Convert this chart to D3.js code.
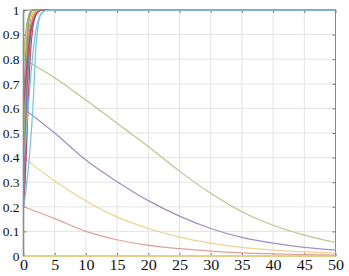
<!DOCTYPE html>
<html>
<head>
<meta charset="utf-8">
<script src="https://cdn.jsdelivr.net/npm/d3@7"></script>
<style>
body { margin: 0; background: #fff; }
.tick text { font-family: "Liberation Serif", "Times New Roman", serif; fill: #111; }
.xax .tick text { font-size: 14px; }
.yax .tick text { font-size: 13.5px; }
</style>
</head>
<body>
<div id="chart"></div>
<script>
// x positions for the fast-rising curves
var stepX = [0, 0.25, 0.5, 0.75, 1, 1.5, 2, 2.5, 3, 4, 5, 50];
var riseCurves = [
  { color: "#5b86c2", y: [0.2, 0.42, 0.68, 0.86, 0.95, 0.99, 1, 1, 1, 1, 1, 1] },
  { color: "#e0845a", y: [0.2, 0.35, 0.55, 0.74, 0.87, 0.97, 0.995, 1, 1, 1, 1, 1] },
  { color: "#eec862", y: [0.4, 0.6, 0.78, 0.9, 0.96, 0.99, 1, 1, 1, 1, 1, 1] },
  { color: "#9c73aa", y: [0.58, 0.76, 0.88, 0.95, 0.98, 1, 1, 1, 1, 1, 1, 1] },
  { color: "#92bb62", y: [0.78, 0.88, 0.94, 0.97, 0.99, 1, 1, 1, 1, 1, 1, 1] },
  { color: "#b8475e", y: [0.2, 0.3, 0.45, 0.62, 0.77, 0.93, 0.98, 1, 1, 1, 1, 1] },
  { color: "#5b86c2", y: [0.4, 0.52, 0.65, 0.77, 0.86, 0.95, 0.985, 1, 1, 1, 1, 1] },
  { color: "#e0845a", y: [0.6, 0.7, 0.8, 0.87, 0.92, 0.97, 0.99, 1, 1, 1, 1, 1] },
  { color: "#eec862", y: [0.8, 0.86, 0.9, 0.94, 0.96, 0.985, 0.995, 1, 1, 1, 1, 1] },
  { color: "#9c73aa", y: [0.2, 0.5, 0.78, 0.93, 0.98, 1, 1, 1, 1, 1, 1, 1] },
  { color: "#92bb62", y: [0.4, 0.65, 0.85, 0.95, 0.99, 1, 1, 1, 1, 1, 1, 1] },
  { color: "#b8475e", y: [0.6, 0.68, 0.76, 0.83, 0.89, 0.95, 0.98, 0.995, 1, 1, 1, 1] },
  { color: "#72c3e6", y: [0.4, 0.45, 0.52, 0.6, 0.68, 0.82, 0.92, 0.97, 0.99, 1, 1, 1] },
  { color: "#72c3e6", y: [0.2, 0.24, 0.29, 0.35, 0.42, 0.6, 0.85, 0.96, 0.99, 1, 1, 1] }
];

// slowly decaying curves
var decayX = [0, 5, 10, 15, 20, 25, 30, 35, 40, 45, 50];
var decayCurves = [
  { color: "#e6cf8a", y: [0, 0, 0, 0, 0, 0, 0, 0, 0, 0, 0] },
  { color: "#dea096", y: [0.2, 0.152, 0.1, 0.066, 0.043, 0.03, 0.02, 0.013, 0.009, 0.006, 0.004] },
  { color: "#ead48e", y: [0.4, 0.305, 0.224, 0.159, 0.112, 0.077, 0.052, 0.035, 0.024, 0.017, 0.012] },
  { color: "#a58cc0", y: [0.6, 0.5, 0.39, 0.302, 0.225, 0.162, 0.112, 0.076, 0.052, 0.035, 0.024] },
  { color: "#b8c68e", y: [0.8, 0.725, 0.634, 0.54, 0.445, 0.345, 0.255, 0.18, 0.125, 0.085, 0.055] }
];

var xTicks = [0, 5, 10, 15, 20, 25, 30, 35, 40, 45, 50];
var yTicks = [0, 0.1, 0.2, 0.3, 0.4, 0.5, 0.6, 0.7, 0.8, 0.9, 1];

var W = 349, H = 276;
var margin = {top: 10, right: 13.5, bottom: 20, left: 23.5};
var width = W - margin.left - margin.right,
    height = H - margin.top - margin.bottom;

var svg = d3.select("#chart").append("svg")
  .attr("width", W).attr("height", H)
  .append("g")
  .attr("transform", "translate(" + margin.left + "," + margin.top + ")");

var x = d3.scaleLinear().domain([0, 50]).range([0, width]);
var y = d3.scaleLinear().domain([0, 1]).range([height, 0]);

// grid
svg.append("g").selectAll("line").data(xTicks.slice(1, -1)).enter().append("line")
  .attr("x1", function(d) { return x(d); }).attr("x2", function(d) { return x(d); })
  .attr("y1", 0).attr("y2", height)
  .attr("stroke", "#e4e4e4").attr("stroke-width", 1);
svg.append("g").selectAll("line").data(yTicks.slice(1, -1)).enter().append("line")
  .attr("y1", function(d) { return y(d); }).attr("y2", function(d) { return y(d); })
  .attr("x1", 0).attr("x2", width)
  .attr("stroke", "#e4e4e4").attr("stroke-width", 1);

// box + inner ticks
svg.append("rect").attr("x", 0).attr("y", 0).attr("width", width).attr("height", height)
  .attr("fill", "none").attr("stroke", "#8a8a8a").attr("stroke-width", 1);

var axBottom = svg.append("g").attr("class", "xax").attr("transform", "translate(0," + height + ")")
  .call(d3.axisBottom(x).tickValues(xTicks).tickSizeInner(-3).tickSizeOuter(0).tickPadding(4));
var axTop = svg.append("g")
  .call(d3.axisTop(x).tickValues(xTicks).tickSizeInner(-3).tickSizeOuter(0).tickFormat(""));
var axLeft = svg.append("g").attr("class", "yax")
  .call(d3.axisLeft(y).tickValues(yTicks).tickSizeInner(-3).tickSizeOuter(0).tickPadding(4)
    .tickFormat(function(d) { return d === 0 || d === 1 ? d : d3.format(".1f")(d); }));
var axRight = svg.append("g").attr("transform", "translate(" + width + ",0)")
  .call(d3.axisRight(y).tickValues(yTicks).tickSizeInner(-3).tickSizeOuter(0).tickFormat(""));

[axBottom, axTop, axLeft, axRight].forEach(function(a) {
  a.attr("font-family", "'Liberation Serif', serif");
  a.select(".domain").remove();
  a.selectAll("line").attr("stroke", "#777");
});
// bottom labels look a bit wide in the reference
axBottom.selectAll("text").attr("transform", "scale(1.15,1)");

var line = d3.line()
  .x(function(d) { return x(d[0]); })
  .y(function(d) { return y(d[1]); })
  .curve(d3.curveMonotoneX);

decayCurves.forEach(function(c) {
  svg.append("path")
    .datum(decayX.map(function(v, i) { return [v, c.y[i]]; }))
    .attr("d", line).attr("fill", "none")
    .attr("stroke", c.color).attr("stroke-width", c.y[0] === 0 ? 2 : 1.2);
});

riseCurves.forEach(function(c) {
  svg.append("path")
    .datum(stepX.map(function(v, i) { return [v, c.y[i]]; }))
    .attr("d", line).attr("fill", "none")
    .attr("stroke", c.color).attr("stroke-width", 1.2);
});

// left axis line drawn on top (thick grey in reference)
svg.append("line").attr("x1", 0).attr("x2", 0).attr("y1", 0).attr("y2", height)
  .attr("stroke", "#8c8c8c").attr("stroke-width", 1.6);
</script>
</body>
</html>
